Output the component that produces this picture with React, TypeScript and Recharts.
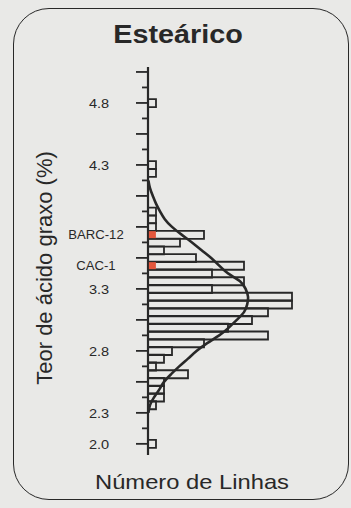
import { ComposedChart, Bar, Line, XAxis, YAxis, ReferenceDot, Label } from 'recharts';

// bin centres (%), number of lines per bin, and the fitted normal curve read at the same bins
const binCenters = [
  4.8, 4.3, 4.2375, 4.175, 4.1125, 4.05, 3.9875, 3.925, 3.8625, 3.8, 3.7375, 3.675, 3.6125, 3.55,
  3.4875, 3.425, 3.3625, 3.3, 3.2375, 3.175, 3.1125, 3.05, 2.9875, 2.925, 2.8625, 2.8, 2.7375,
  2.675, 2.6125, 2.55, 2.4875, 2.425, 2.3625, 2.3, 2.05,
];
const lineCounts = [
  1, 1, 1, null, null, null, null, 1, 1, 1, 7, 4, 2, 6, 12, 8, 12, 8, 18, 18, 15, 13, 10, 15, 7, 3,
  2, 1, 5, 2, 2, 2, 1, null, 1,
];
const normalFit = [
  null, null, null, 0.05, 0.25, 0.6, 1.0, 1.5, 2.1, 3.0, 4.2, 5.5, 6.7, 7.9, 8.9, 10.0, 11.5, 12.2,
  12.5, 12.4, 12.0, 11.1, 10.1, 8.9, 7.4, 6.1, 5.0, 3.9, 2.9, 2.0, 1.4, 0.75, 0.25, 0.05, null,
];

const axisTicks = [
  2.05, 2.175, 2.3, 2.425, 2.55, 2.675, 2.8, 2.925, 3.05, 3.175, 3.3, 3.425, 3.55, 3.675, 3.8,
  3.925, 4.05, 4.175, 4.3, 4.425, 4.55, 4.675, 4.8, 4.925, 5.05,
];
const labelledTicks = [2.05, 2.3, 2.8, 3.3, 4.3, 4.8];
const tickLabels = ['2.0', '2.3', '2.8', '3.3', '4.3', '4.8'];

const markerNames = ['BARC-12', 'CAC-1'];
const markerValues = [3.7375, 3.4875];

const rows = binCenters.map((pct, i) => ({ pct, count: lineCounts[i], fit: normalFit[i] }));

const INK = '#282828';
const FONT = '"Liberation Sans", Arial, sans-serif';

function AxisTick(props: any) {
  const { x, y, payload } = props;
  const v = payload.value;
  const mi = markerValues.indexOf(v);
  if (mi >= 0) {
    return (
      <text
        transform={`translate(${x - 52}, ${y}) scale(1.05, 1)`}
        textAnchor="middle"
        dy="0.36em"
        fontSize={12.5}
        fontFamily={FONT}
        fill={INK}
      >
        {markerNames[mi]}
      </text>
    );
  }
  const ti = axisTicks.indexOf(v);
  const len = ti % 2 === 0 ? 12 : 6;
  const li = labelledTicks.indexOf(v);
  return (
    <g>
      <line x1={x - len} x2={x} y1={y} y2={y} stroke={INK} strokeWidth={1.8} />
      {li >= 0 && (
        <text
          transform={`translate(${x - 49}, ${y}) scale(1.12, 1)`}
          textAnchor="middle"
          dy="0.36em"
          fontSize={13}
          fontFamily={FONT}
          fill={INK}
        >
          {tickLabels[li]}
        </text>
      )}
    </g>
  );
}

function YTitle(props: any) {
  const vb = props.viewBox || { x: 0, y: 67, width: 148, height: 388 };
  const cx = vb.x + 52;
  const cy = vb.y + vb.height / 2 + 7;
  return (
    <text
      x={cx}
      y={cy}
      transform={`rotate(-90, ${cx}, ${cy})`}
      textAnchor="middle"
      fontSize={22}
      fontFamily={FONT}
      fill={INK}
    >
      Teor de ácido graxo (%)
    </text>
  );
}

const Square = (props: any) => (
  <rect x={props.cx - 3.5} y={props.cy - 3.5} width={7} height={7} fill="#e4573d" />
);

export default function App() {
  return (
    <div
      style={{
        position: 'absolute',
        left: 0,
        top: 0,
        width: 351,
        height: 508,
        background: '#e9e9e7',
        fontFamily: FONT,
        overflow: 'hidden',
      }}
    >
      <div
        style={{
          position: 'absolute',
          left: 13,
          top: 8,
          width: 336,
          height: 492,
          boxSizing: 'border-box',
          border: `1.8px solid ${INK}`,
          borderRadius: 36,
        }}
      />
      <div
        style={{
          position: 'absolute',
          left: 0,
          top: 22,
          width: 356,
          textAlign: 'center',
          fontSize: 25,
          lineHeight: '25px',
          fontWeight: 'bold',
          color: INK,
          transform: 'scaleX(1.15)',
        }}
      >
        Esteárico
      </div>
      <div
        style={{
          position: 'absolute',
          left: 0,
          top: 471,
          width: 384,
          textAlign: 'center',
          fontSize: 21,
          lineHeight: '21px',
          color: INK,
          transform: 'scaleX(1.13)',
        }}
      >
        Número de Linhas
      </div>
      <div style={{ position: 'absolute', left: 0, top: 0 }}>
        <ComposedChart
          layout="vertical"
          width={351}
          height={508}
          data={rows}
          margin={{ top: 67, right: 11, bottom: 53, left: 0 }}
          barCategoryGap={0}
        >
          <XAxis type="number" domain={[0, 24]} allowDataOverflow hide />
          <YAxis
            type="number"
            dataKey="pct"
            domain={[1.96, 5.09]}
            allowDataOverflow
            reversed
            ticks={[...axisTicks, ...markerValues]}
            interval={0}
            width={148}
            tickSize={0}
            tickMargin={0}
            tickLine={false}
            axisLine={{ stroke: INK, strokeWidth: 2.2 }}
            tick={<AxisTick />}
          >
            <Label content={<YTitle />} />
          </YAxis>
          <Bar
            dataKey="count"
            fill="none"
            stroke={INK}
            strokeWidth={1.8}
            isAnimationActive={false}
          />
          <Line
            dataKey="fit"
            type="natural"
            stroke={INK}
            strokeWidth={2.6}
            dot={false}
            activeDot={false}
            isAnimationActive={false}
          />
          {markerValues.map((v, i) => (
            <ReferenceDot key={markerNames[i]} x={0.55} y={v} r={3.5} shape={Square} />
          ))}
        </ComposedChart>
      </div>
    </div>
  );
}
